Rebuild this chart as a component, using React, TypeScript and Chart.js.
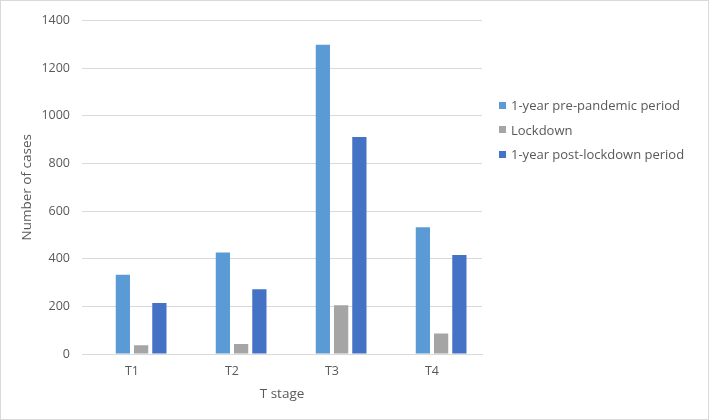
import React, { useEffect, useRef } from "react";
import { Chart, registerables } from "chart.js";

Chart.register(...registerables);

const categories = ["T1", "T2", "T3", "T4"];
const seriesNames = ["1-year pre-pandemic period", "Lockdown", "1-year post-lockdown period"];
const prePandemic = [333, 426, 1298, 532];
const lockdown = [37, 42, 205, 86];
const postLockdown = [214, 272, 911, 416];
const colors = ["#5B9BD5", "#A5A5A5", "#4472C4"];
const yTicks = [0, 200, 400, 600, 800, 1000, 1200, 1400];

const FONT = "'Open Sans', sans-serif";
const TEXT = "#595959";

export default function App() {
  const ref = useRef<HTMLCanvasElement | null>(null);

  useEffect(() => {
    if (!ref.current) return;
    const values = [prePandemic, lockdown, postLockdown];
    const chart = new Chart(ref.current, {
      type: "bar",
      data: {
        labels: categories,
        datasets: [
          // empty leading slot (as in the source chart, bars sit right of the tick)
          { label: "", data: categories.map(() => null), backgroundColor: "rgba(0,0,0,0)" },
          ...seriesNames.map((name, i) => ({
            label: name,
            data: values[i],
            backgroundColor: colors[i],
            borderWidth: 0,
          })),
        ],
      },
      options: {
        animation: false,
        responsive: true,
        maintainAspectRatio: false,
        layout: { padding: { top: 17, right: 226, bottom: 17, left: 0 } },
        datasets: { bar: { categoryPercentage: 0.73, barPercentage: 0.78 } },
        plugins: {
          tooltip: { enabled: false },
          legend: { display: false },
        },
        scales: {
          x: {
            grid: { display: false, drawTicks: false },
            border: { display: true, color: "#d9d9d9" },
            ticks: { color: TEXT, font: { family: FONT, size: 12.5 }, padding: 10 },
            title: {
              display: true,
              text: "T stage",
              color: TEXT,
              font: { family: FONT, size: 13.5 },
              padding: { top: 4, bottom: 0 },
            },
            afterFit: (s: any) => {
              s.height = 48;
            },
          },
          y: {
            min: 0,
            max: 1400,
            afterBuildTicks: (s: any) => {
              s.ticks = yTicks.map((v) => ({ value: v }));
            },
            grid: { color: "#d9d9d9", drawTicks: false },
            border: { display: false },
            ticks: {
              color: TEXT,
              font: { family: FONT, size: 12.5 },
              padding: 12,
              callback: (v: any) => String(v),
            },
            title: {
              display: true,
              text: "Number of cases",
              color: TEXT,
              font: { family: FONT, size: 13.5 },
              padding: { top: 18, bottom: 4 },
            },
            afterFit: (s: any) => {
              s.width = 81;
            },
          },
        },
      },
    });
    return () => chart.destroy();
  }, []);

  return (
    <div
      style={{
        position: "absolute",
        left: 0,
        top: 0,
        width: 709,
        height: 420,
        boxSizing: "border-box",
        border: "1px solid #d9d9d9",
        background: "#fff",
      }}
    >
      <div style={{ position: "relative", width: 707, height: 418 }}>
        <canvas ref={ref} />
      </div>
      <div
        style={{
          position: "absolute",
          left: 498,
          top: 92,
          fontFamily: FONT,
          fontSize: 13,
          color: TEXT,
          lineHeight: "24.5px",
          whiteSpace: "nowrap",
        }}
      >
        {seriesNames.map((name, i) => (
          <div key={name} style={{ display: "flex", alignItems: "center", height: 24.5 }}>
            <span
              style={{
                display: "inline-block",
                width: 7,
                height: 7,
                background: colors[i],
                marginRight: 5,
              }}
            />
            <span>{name}</span>
          </div>
        ))}
      </div>
    </div>
  );
}
